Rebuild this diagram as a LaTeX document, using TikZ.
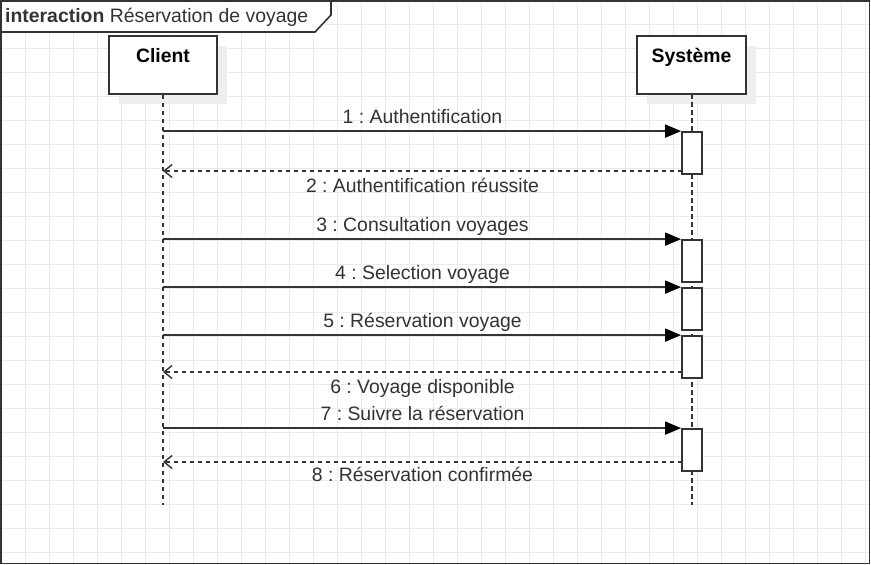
\documentclass[tikz,border=0pt]{standalone}
\usepackage{fontspec}
\setmainfont{Liberation Sans}
\frenchspacing
\usetikzlibrary{arrows.meta,shadows}
\definecolor{ink}{HTML}{333333}
\definecolor{gridc}{HTML}{EBEBEB}
\definecolor{shadowc}{HTML}{EEEEEE}
\tikzset{
  lbl/.style={anchor=base, inner sep=0pt, text=ink, font=\fontsize{19.4}{23}\selectfont},
  actorbox/.style={draw=ink, line width=1.7pt, fill=white, minimum width=108pt, minimum height=58pt, inner sep=0pt,
    drop shadow={shadow xshift=10pt, shadow yshift=-10pt, fill=shadowc, opacity=1}},
  actlbl/.style={anchor=base, inner sep=0pt, text=black, font=\fontsize{19.4}{23}\selectfont\bfseries},
  lifeline/.style={draw=ink, line width=1.4pt, dash pattern=on 4.5pt off 3.5pt},
  actbox/.style={draw=ink, line width=1.8pt, fill=white, minimum width=20pt, inner sep=0pt},
  msg/.style={draw=ink, line width=1.8pt, -{Triangle[length=16pt,width=13pt,color=black]}},
  ret/.style={draw=ink, line width=1.5pt, dash pattern=on 4.5pt off 3.5pt, -{Straight Barb[length=8pt,width=13pt,line width=1.4pt]}},
}
\begin{document}
\begin{tikzpicture}[x=1pt,y=-1pt]
\useasboundingbox (0,0) rectangle (871,565);
\fill[white] (0,0) rectangle (871,565);
% grid
\foreach \i in {0,...,36} \draw[gridc, line width=1pt] ({1+24*\i},0) -- ({1+24*\i},565);
\foreach \j in {0,...,23} \draw[gridc, line width=1pt] (0,{24*\j}) -- (871,{24*\j});
% frame
\draw[ink, line width=1.8pt] (1,1) rectangle (869.5,563.5);
\draw[ink, line width=1.6pt, fill=white] (1,1) -- (331,1) -- (331,15) -- (315,32) -- (1,32) -- cycle;
\node[lbl, anchor=base west] (title) at (5,22.7) {\textbf{interaction} Réservation de voyage};
% actors
\node[actorbox] (client) at (163,65) {};
\node[actlbl] (clientlbl) at (163,62.3) {Client};
\node[actorbox, minimum width=109pt] (sys) at (691.5,65) {};
\node[actlbl] (syslbl) at (691.5,62) {Système};
% lifelines
\coordinate (clientend) at (163,505);
\coordinate (sysend) at (692,505);
\draw[lifeline] (client.south) -- (clientend);
\draw[lifeline] (692,94) -- (sysend);
% activations
\node[actbox, minimum height=42pt] (a1) at (692,153) {};
\node[actbox, minimum height=42pt] (a2) at (692,261) {};
\node[actbox, minimum height=42pt] (a3) at (692,309) {};
\node[actbox, minimum height=42pt] (a4) at (692,357) {};
\node[actbox, minimum height=42pt] (a5) at (692,450) {};
% messages
\draw[msg] (client |- a1.north west) -- (a1.north west);
\node[lbl] (m1) at (422.5,123.3) {1 : Authentification};
\coordinate (r1) at (682,171);
\draw[ret] (r1) -- (client |- r1);
\node[lbl] (m2) at (422.5,192) {2 : Authentification réussite};
\draw[msg] (client |- a2.north west) -- (a2.north west);
\node[lbl] (m3) at (422.5,231.3) {3 : Consultation voyages};
\draw[msg] (client |- a3.north west) -- (a3.north west);
\node[lbl] (m4) at (422.5,279.3) {4 : Selection voyage};
\draw[msg] (client |- a4.north west) -- (a4.north west);
\node[lbl] (m5) at (422.5,327.3) {5 : Réservation voyage};
\coordinate (r6) at (682,372);
\draw[ret] (r6) -- (client |- r6);
\node[lbl] (m6) at (422.5,393.3) {6 : Voyage disponible};
\draw[msg] (client |- a5.north west) -- (a5.north west);
\node[lbl] (m7) at (422.5,420) {7 : Suivre la réservation};
\coordinate (r8) at (682,462);
\draw[ret] (r8) -- (client |- r8);
\node[lbl] (m8) at (422.5,481.7) {8 : Réservation confirmée};
\end{tikzpicture}
\end{document}
